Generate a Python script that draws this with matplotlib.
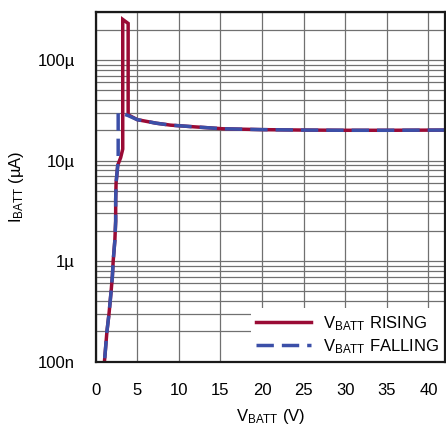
import matplotlib
matplotlib.use("Agg")
import matplotlib.pyplot as plt
from matplotlib.ticker import FixedLocator, LogLocator, NullFormatter

plt.rcParams['font.family'] = ['Liberation Sans', 'DejaVu Sans']
plt.rcParams['mathtext.fontset'] = 'custom'
plt.rcParams['mathtext.rm'] = 'Liberation Sans'

# datos (V en volts, I en microamperios)
v_rising = [1.05, 1.35, 1.6, 1.85, 2.0, 2.1, 2.3, 2.4, 2.4, 2.45, 2.65, 3.0, 3.25,
            3.25, 3.9, 3.9, 5.0, 7.3, 9.0, 11.3, 15.3, 20, 25, 30, 35, 42]
i_rising = [0.1, 0.2, 0.3, 0.5, 0.7, 1.0, 1.6, 2.5, 4.1, 6.0, 9.0, 10.7, 13.0,
            253, 231, 28.5, 25.5, 23.5, 22.5, 21.8, 20.7, 20.3, 20.1, 20.0, 20.0, 20.1]

v_falling = [42, 35, 30, 25, 20, 15.3, 11.3, 9.0, 7.3, 5.0, 3.9, 3.1, 2.7,
             2.7, 2.65, 2.45, 2.4, 2.4, 2.3, 2.1, 2.0, 1.85, 1.6, 1.35, 1.05]
i_falling = [20.1, 20.0, 20.0, 20.1, 20.3, 20.7, 21.8, 22.5, 23.5, 25.5, 28.0, 29.5, 30.0,
             10.5, 9.0, 6.0, 4.1, 2.5, 1.6, 1.0, 0.7, 0.5, 0.3, 0.2, 0.1]

y_ticks = [0.1, 1, 10, 100]
y_labels = ["100n", "1µ", "10µ", "100µ"]
x_ticks = [0, 5, 10, 15, 20, 25, 30, 35, 40]

red = "#9a0b35"
blue = "#3b4fa8"
grid_c = "#707070"
fs = 12

fig = plt.figure(figsize=(4.46, 4.26), dpi=100)
ax = fig.add_axes([0.2146, 0.151, 0.7832, 0.8208])

ax.plot(v_rising, i_rising, color=red, lw=2.5, solid_joinstyle='miter',
        label=r"$\mathregular{V_{BATT}}$ RISING", zorder=3)
ax.plot(v_falling, i_falling, color=blue, lw=2.5, dashes=(5, 2.3),
        label=r"$\mathregular{V_{BATT}}$ FALLING", zorder=4)

ax.set_yscale('log')
ax.set_xlim(0, 42)
ax.set_ylim(0.1, 300)

ax.xaxis.set_major_locator(FixedLocator(x_ticks))
ax.yaxis.set_major_locator(FixedLocator(y_ticks))
ax.set_yticklabels(y_labels)
ax.yaxis.set_minor_locator(LogLocator(base=10, subs=range(2, 10), numticks=20))
ax.yaxis.set_minor_formatter(NullFormatter())

ax.grid(True, which='major', color=grid_c, lw=0.9)
ax.grid(True, which='minor', axis='y', color=grid_c, lw=0.9)
ax.tick_params(which='both', length=0, labelsize=fs, colors='black')
ax.tick_params(axis='x', pad=15)
ax.tick_params(axis='y', pad=15)

for s in ax.spines.values():
    s.set_linewidth(1.6)
    s.set_color('#1a1a1a')
    s.set_zorder(6)

ax.set_xlabel(r"$\mathregular{V_{BATT}}$ (V)", fontsize=fs)
ax.set_ylabel(r"$\mathregular{I_{BATT}}$ (µA)", fontsize=fs)
ax.xaxis.set_label_coords(0.5, -0.13)
ax.yaxis.set_label_coords(-0.2, 0.5)

leg = ax.legend(loc='lower right', fontsize=fs, frameon=True, fancybox=False,
                edgecolor='none', facecolor='white', framealpha=1,
                borderaxespad=0, borderpad=0.35, handlelength=3.3,
                handletextpad=0.7, labelspacing=0.25)
leg.set_zorder(5)

plt.savefig("out.png", dpi=100)
plt.close(fig)
